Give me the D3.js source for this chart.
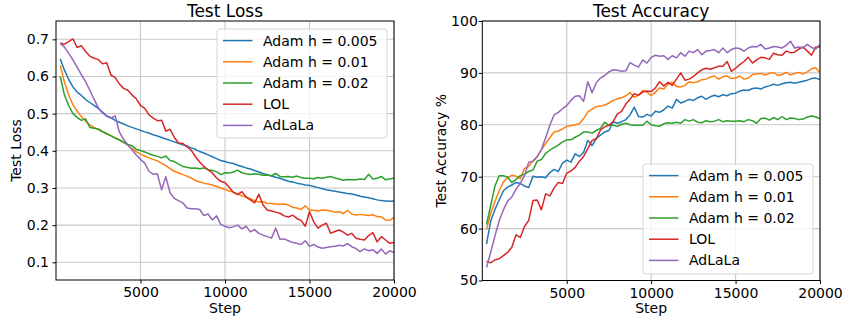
<!DOCTYPE html>
<html>
<head>
<meta charset="utf-8">
<script src="https://cdn.jsdelivr.net/npm/d3@7/dist/d3.min.js"></script>
<style>
  html, body { margin: 0; padding: 0; background: #fff; }
  svg { display: block; font-family: "DejaVu Sans", sans-serif; }
</style>
</head>
<body>
<svg id="chart" width="846" height="325"></svg>
<script>
// Evaluation steps (every 250 training steps)
const steps = d3.range(250, 20001, 250);

const seriesNames = ["Adam h = 0.005", "Adam h = 0.01", "Adam h = 0.02", "LOL", "AdLaLa"];
const seriesColors = ["#1f77b4", "#ff7f0e", "#2ca02c", "#d62728", "#9467bd"];

// Test loss per method
const lossAdam005 = [0.648,0.617,0.592,0.572,0.558,0.549,0.538,0.530,0.522,0.514,
  0.504,0.494,0.489,0.482,0.477,0.472,0.467,0.463,0.459,0.455,
  0.451,0.448,0.443,0.440,0.436,0.432,0.428,0.424,0.420,0.416,
  0.413,0.408,0.404,0.398,0.394,0.389,0.384,0.379,0.374,0.371,
  0.368,0.366,0.361,0.358,0.354,0.351,0.347,0.343,0.339,0.336,
  0.332,0.329,0.326,0.322,0.318,0.316,0.313,0.311,0.308,0.307,
  0.304,0.301,0.298,0.295,0.293,0.291,0.289,0.287,0.285,0.284,
  0.281,0.278,0.276,0.274,0.271,0.268,0.266,0.265,0.264,0.265];
const lossAdam01 = [0.630,0.585,0.550,0.524,0.507,0.492,0.480,0.470,0.463,0.457,
  0.451,0.446,0.441,0.435,0.430,0.423,0.415,0.406,0.398,0.391,
  0.386,0.381,0.377,0.373,0.367,0.360,0.352,0.345,0.341,0.336,
  0.332,0.327,0.320,0.316,0.313,0.311,0.308,0.304,0.300,0.296,
  0.292,0.289,0.284,0.279,0.275,0.271,0.266,0.262,0.263,0.259,
  0.258,0.257,0.256,0.257,0.254,0.248,0.246,0.242,0.252,0.240,
  0.240,0.238,0.241,0.240,0.238,0.235,0.236,0.231,0.240,0.230,
  0.227,0.229,0.227,0.226,0.228,0.223,0.222,0.214,0.213,0.221];
const lossAdam02 = [0.600,0.550,0.522,0.500,0.490,0.482,0.486,0.463,0.461,0.459,
  0.452,0.446,0.440,0.434,0.429,0.423,0.417,0.414,0.404,0.401,
  0.397,0.392,0.388,0.385,0.381,0.386,0.374,0.371,0.364,0.358,
  0.356,0.353,0.354,0.352,0.354,0.349,0.347,0.344,0.336,0.341,
  0.340,0.343,0.348,0.341,0.338,0.336,0.338,0.337,0.334,0.335,
  0.333,0.339,0.331,0.330,0.331,0.329,0.332,0.328,0.326,0.326,
  0.325,0.328,0.326,0.329,0.331,0.327,0.324,0.321,0.323,0.322,
  0.322,0.324,0.323,0.337,0.324,0.326,0.331,0.322,0.324,0.327];
const lossLOL = [0.690,0.687,0.694,0.701,0.678,0.683,0.667,0.655,0.649,0.646,
  0.634,0.637,0.604,0.597,0.580,0.568,0.563,0.550,0.540,0.522,
  0.514,0.497,0.488,0.481,0.482,0.453,0.458,0.436,0.421,0.420,
  0.411,0.402,0.384,0.370,0.358,0.349,0.340,0.327,0.318,0.314,
  0.302,0.288,0.282,0.290,0.276,0.268,0.260,0.283,0.254,0.241,
  0.238,0.235,0.232,0.225,0.222,0.227,0.218,0.213,0.197,0.236,
  0.209,0.192,0.200,0.205,0.178,0.183,0.187,0.181,0.173,0.178,
  0.165,0.162,0.160,0.172,0.180,0.155,0.169,0.160,0.151,0.153];
const lossAdLaLa = [0.689,0.679,0.662,0.645,0.625,0.605,0.586,0.563,0.539,0.516,
  0.502,0.493,0.488,0.494,0.450,0.431,0.416,0.403,0.389,0.377,
  0.367,0.345,0.337,0.338,0.295,0.330,0.287,0.272,0.266,0.260,
  0.246,0.244,0.244,0.242,0.226,0.230,0.214,0.225,0.202,0.197,
  0.193,0.196,0.200,0.190,0.197,0.182,0.188,0.178,0.173,0.169,
  0.165,0.192,0.162,0.163,0.158,0.153,0.151,0.148,0.158,0.143,
  0.148,0.141,0.138,0.140,0.142,0.143,0.146,0.144,0.150,0.142,
  0.137,0.129,0.136,0.131,0.134,0.124,0.136,0.122,0.131,0.126];

// Test accuracy (%) per method
const accAdam005 = [57.0,61.5,63.7,65.5,67.3,68.0,68.4,68.9,68.7,68.2,
  67.9,70.1,69.9,70.0,69.8,70.8,71.4,71.0,72.6,73.2,
  72.8,74.4,73.9,74.7,77.0,76.0,77.4,78.0,78.6,78.9,
  80.6,80.3,80.6,81.0,81.9,83.4,81.6,81.5,82.0,81.7,
  82.6,82.4,82.9,83.6,83.2,84.9,84.2,84.5,84.9,84.7,
  85.2,85.5,84.9,85.4,85.7,85.4,85.8,85.6,86.0,86.1,
  86.5,86.7,86.6,87.0,87.1,86.9,87.3,87.5,87.8,87.6,
  87.9,88.1,88.2,88.0,88.2,88.4,88.6,88.9,89.0,88.7];
const accAdam01 = [59.8,63.0,65.2,67.3,69.0,69.8,70.3,70.1,69.6,71.6,
  72.0,73.0,73.8,75.2,76.4,77.5,78.6,78.8,79.2,79.7,
  79.8,80.0,80.2,81.2,82.5,83.0,83.5,83.6,83.8,84.2,
  84.7,85.0,85.2,85.6,86.2,85.3,85.7,86.6,86.3,85.6,
  86.3,87.1,86.9,87.8,88.2,87.4,87.3,87.6,88.3,88.1,
  88.3,88.7,88.8,89.2,89.4,88.8,89.3,89.4,88.9,89.0,
  89.4,88.8,89.0,89.7,89.8,89.9,89.6,89.9,90.1,89.5,
  89.7,90.1,89.6,89.9,90.1,89.8,90.2,90.8,91.0,90.1];
const accAdam02 = [60.8,64.5,68.2,70.2,70.2,69.9,68.9,69.5,70.2,70.5,
  71.0,71.3,73.0,73.3,74.5,75.1,75.6,76.1,76.7,77.1,
  77.1,77.6,78.0,78.6,78.6,78.4,78.9,79.3,80.5,79.9,
  79.9,79.7,80.1,80.3,80.0,79.9,79.9,79.9,80.7,80.0,
  79.8,79.7,80.2,80.4,80.3,80.5,80.3,81.0,80.7,81.0,
  80.5,80.4,80.8,80.6,80.7,81.0,80.6,80.8,80.7,80.7,
  80.8,80.6,81.0,80.8,80.3,81.2,81.3,80.9,81.4,81.0,
  81.6,81.0,81.3,81.2,81.0,81.1,81.5,81.7,81.5,81.2];
const accLOL = [53.7,53.4,54.0,54.2,54.8,55.4,56.4,58.8,58.3,60.4,
  61.6,65.4,65.5,63.6,66.7,66.3,67.8,68.9,68.7,70.7,
  71.1,71.8,73.0,73.9,75.4,77.0,77.3,79.0,79.6,79.9,
  80.6,82.1,82.6,84.0,84.9,86.0,85.7,86.3,86.5,86.4,
  87.1,88.3,87.5,88.2,87.6,88.8,90.0,88.6,88.8,89.3,
  90.0,90.6,90.9,90.7,91.0,91.3,91.3,92.2,90.3,90.9,
  91.6,92.2,93.0,91.9,92.5,93.0,92.9,92.6,93.8,93.5,
  93.4,94.2,93.9,94.0,94.6,95.0,94.2,93.4,95.0,95.0];
const accAdLaLa = [52.5,55.5,58.6,61.5,63.6,65.3,66.1,67.6,68.7,70.2,
  72.8,73.0,73.9,75.2,77.5,79.9,81.9,82.4,83.1,83.7,
  84.7,85.5,85.6,84.5,88.3,86.2,88.1,89.0,89.5,90.2,
  90.6,90.5,90.3,90.4,92.0,91.5,91.1,92.5,91.9,93.0,
  93.4,93.2,93.3,92.6,93.3,92.9,93.9,93.2,94.2,93.9,
  94.5,93.5,94.2,94.3,94.5,93.9,94.8,93.9,94.5,94.8,
  94.7,94.2,94.8,95.1,95.0,95.5,94.6,94.8,95.1,95.0,
  94.8,95.3,96.1,94.8,95.0,94.8,95.5,94.9,94.6,95.5];

// Axis ticks
const xTicks = [5000, 10000, 15000, 20000];
const lossTicks = [0.1, 0.2, 0.3, 0.4, 0.5, 0.6, 0.7];
const accTicks = [50, 60, 70, 80, 90, 100];

const svg = d3.select("#chart");
svg.append("rect").attr("width", 846).attr("height", 325).attr("fill", "#fff");

const panels = [
  {
    id: "loss", left: 56, right: 394, top: 21, bottom: 280,
    yDomain: [0.0524, 0.7493], yTicks: lossTicks, yFormat: d3.format(".1f"), yPad: 3.5,
    title: "Test Loss", yLabel: "Test Loss", yLabelX: 20.5, xLabel: "Step",
    data: [lossAdam005, lossAdam01, lossAdam02, lossLOL, lossAdLaLa],
    legend: { x: 217, y: 29, w: 170, h: 109 }
  },
  {
    id: "acc", left: 482.3, right: 820, top: 21, bottom: 280.5,
    yDomain: [50, 100], yTicks: accTicks, yFormat: d3.format("d"), yPad: 1,
    title: "Test Accuracy", yLabel: "Test Accuracy %", yLabelX: 446, xLabel: "Step",
    data: [accAdam005, accAdam01, accAdam02, accLOL, accAdLaLa],
    legend: { x: 643, y: 164, w: 170, h: 110 }
  }
];

panels.forEach(p => {
  const x = d3.scaleLinear().domain([0, 20000]).range([p.left, p.right]);
  const y = d3.scaleLinear().domain(p.yDomain).range([p.bottom, p.top]);
  const g = svg.append("g").attr("class", "panel-" + p.id);

  // grid
  const grid = g.append("g").attr("stroke", "#c9c9c9").attr("stroke-width", 1.1);
  xTicks.forEach(t => grid.append("line")
    .attr("x1", x(t)).attr("x2", x(t)).attr("y1", p.top).attr("y2", p.bottom));
  p.yTicks.forEach(t => grid.append("line")
    .attr("x1", p.left).attr("x2", p.right).attr("y1", y(t)).attr("y2", y(t)));

  // clip region for data lines
  g.append("clipPath").attr("id", "clip-" + p.id)
    .append("rect").attr("x", p.left).attr("y", p.top)
    .attr("width", p.right - p.left).attr("height", p.bottom - p.top);

  const line = d3.line().x((d, i) => x(steps[i])).y(d => y(d));
  const lines = g.append("g").attr("clip-path", `url(#clip-${p.id})`);
  p.data.forEach((vals, k) => {
    lines.append("path").datum(vals)
      .attr("d", line)
      .attr("fill", "none")
      .attr("stroke", seriesColors[k])
      .attr("stroke-width", 1.5)
      .attr("stroke-linejoin", "round");
  });

  // axes
  const xAxis = d3.axisBottom(x).tickValues(xTicks).tickFormat(d3.format("d"))
    .tickSize(3.5).tickPadding(4);
  const yAxis = d3.axisLeft(y).tickValues(p.yTicks).tickFormat(p.yFormat)
    .tickSize(3.5).tickPadding(p.yPad);
  const gx = g.append("g").attr("transform", `translate(0,${p.bottom})`).call(xAxis);
  const gy = g.append("g").attr("transform", `translate(${p.left},0)`).call(yAxis);
  [gx, gy].forEach(a => {
    a.select(".domain").remove();
    a.selectAll(".tick line").attr("stroke", "#000").attr("stroke-width", 1);
    a.selectAll(".tick text").attr("fill", "#000")
      .style("font-size", "14px").style("font-family", "DejaVu Sans");
  });

  // frame
  g.append("rect").attr("x", p.left).attr("y", p.top)
    .attr("width", p.right - p.left).attr("height", p.bottom - p.top)
    .attr("fill", "none").attr("stroke", "#000").attr("stroke-width", 1);

  // titles and labels
  g.append("text").attr("x", (p.left + p.right) / 2).attr("y", 16.5)
    .attr("text-anchor", "middle").style("font-size", "17px").text(p.title);
  g.append("text").attr("x", (p.left + p.right) / 2).attr("y", 313)
    .attr("text-anchor", "middle").style("font-size", "14px").text(p.xLabel);
  g.append("text")
    .attr("transform", `translate(${p.yLabelX},${(p.top + p.bottom) / 2}) rotate(-90)`)
    .attr("text-anchor", "middle").style("font-size", "14px").text(p.yLabel);

  // legend
  const L = p.legend;
  const lg = g.append("g");
  lg.append("rect").attr("x", L.x).attr("y", L.y).attr("width", L.w).attr("height", L.h)
    .attr("rx", 3).attr("fill", "#fff").attr("fill-opacity", 0.8)
    .attr("stroke", "#d5d5d5").attr("stroke-width", 1);
  seriesNames.forEach((name, k) => {
    const cy = L.y + 11.6 + k * 21.2;
    lg.append("line").attr("x1", L.x + 6).attr("x2", L.x + 35.5)
      .attr("y1", cy).attr("y2", cy)
      .attr("stroke", seriesColors[k]).attr("stroke-width", 1.5);
    lg.append("text").attr("x", L.x + 46).attr("y", cy + 5)
      .style("font-size", "14px").text(name);
  });
});
</script>
</body>
</html>
